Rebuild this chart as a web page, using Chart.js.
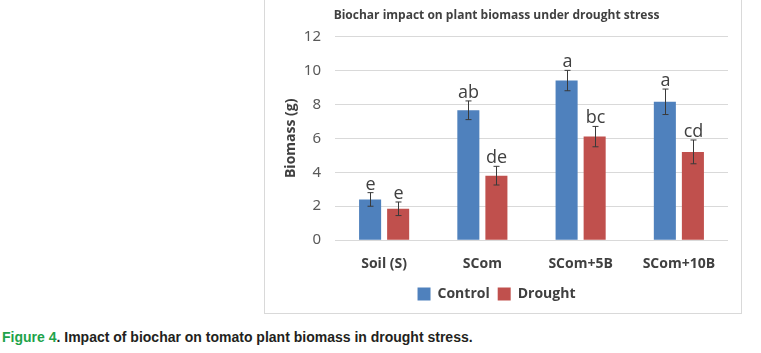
<!DOCTYPE html>
<html>
<head>
<meta charset="utf-8">
<script src="https://cdn.jsdelivr.net/npm/chart.js@4"></script>
<style>
  html, body { margin: 0; padding: 0; background: #fff; width: 761px; height: 353px; overflow: hidden; }
  #frame { position: absolute; left: 264px; top: -2px; width: 476px; height: 314px; border: 1px solid #d9d9d9; box-sizing: content-box; }
  #wrap { position: absolute; left: 265px; top: 0px; width: 476px; height: 313px; }
  #caption { position: absolute; left: 2px; top: 329px; font: bold 14px "Liberation Sans", Arial, sans-serif; color: #231f20; white-space: nowrap; }
  #caption .fig { color: #1ea34a; }
</style>
</head>
<body>
<div id="frame"></div>
<div id="wrap"><canvas id="c" width="476" height="313"></canvas></div>
<div id="caption"><span class="fig">Figure 4</span>. Impact of biochar on tomato plant biomass in drought stress.</div>
<script>
const categories = ["Soil (S)", "SCom", "SCom+5B", "SCom+10B"];
const controlValues = [2.4, 7.65, 9.4, 8.15];
const droughtValues = [1.85, 3.8, 6.1, 5.2];
const controlErrors = [0.4, 0.55, 0.6, 0.75];
const droughtErrors = [0.4, 0.55, 0.6, 0.7];
const controlLetters = ["e", "ab", "a", "a"];
const droughtLetters = ["e", "de", "bc", "cd"];
const yTicks = [0, 2, 4, 6, 8, 10, 12];

const errorBarPlugin = {
  id: 'errorBars',
  afterDatasetsDraw(chart) {
    const ctx = chart.ctx;
    const y = chart.scales.y;
    chart.data.datasets.forEach((ds, di) => {
      const meta = chart.getDatasetMeta(di);
      meta.data.forEach((bar, i) => {
        const v = ds.data[i], e = ds.errors[i];
        const x = Math.round(bar.x) + 0.5;
        const yt = y.getPixelForValue(v + e);
        const yb = y.getPixelForValue(v - e);
        ctx.save();
        ctx.strokeStyle = '#3a3a3a';
        ctx.lineWidth = 1;
        ctx.beginPath();
        ctx.moveTo(x, yt); ctx.lineTo(x, yb);
        ctx.moveTo(x - 3, yt); ctx.lineTo(x + 3, yt);
        ctx.moveTo(x - 3, yb); ctx.lineTo(x + 3, yb);
        ctx.stroke();
        ctx.fillStyle = '#404040';
        ctx.font = '18px "Open Sans", "Liberation Sans", sans-serif';
        ctx.textAlign = 'center';
        ctx.textBaseline = 'alphabetic';
        ctx.fillText(ds.letters[i], x, yt - 3);
        ctx.restore();
      });
    });
  }
};

new Chart(document.getElementById('c'), {
  type: 'bar',
  data: {
    labels: categories,
    datasets: [
      { label: 'Control', data: controlValues, errors: controlErrors, letters: controlLetters,
        backgroundColor: '#4f81bd', barPercentage: 0.786, categoryPercentage: 0.571 },
      { label: 'Drought', data: droughtValues, errors: droughtErrors, letters: droughtLetters,
        backgroundColor: '#c0504d', barPercentage: 0.786, categoryPercentage: 0.571 }
    ]
  },
  options: {
    responsive: false,
    animation: false,
    layout: { padding: { left: 0, right: 13, top: 0, bottom: 2 } },
    plugins: {
      title: {
        display: true,
        text: 'Biochar impact on plant biomass under drought stress',
        color: '#404040',
        font: { family: '"Open Sans", "Liberation Sans", sans-serif', size: 12, weight: 'bold' },
        padding: { top: 8, bottom: 14 }
      },
      legend: {
        position: 'bottom',
        labels: {
          color: '#404040',
          boxWidth: 13, boxHeight: 13,
          padding: 8,
          font: { family: '"Open Sans", "Liberation Sans", sans-serif', size: 14, weight: 'bold' }
        }
      },
      tooltip: { enabled: false }
    },
    scales: {
      x: {
        grid: { display: false },
        border: { display: false },
        ticks: {
          color: '#404040', padding: 7,
          font: { family: '"Open Sans", "Liberation Sans", sans-serif', size: 14, weight: 'bold' }
        }
      },
      y: {
        min: 0, max: 12,
        afterBuildTicks(scale) { scale.ticks = yTicks.map(v => ({ value: v })); },
        afterFit(scale) { scale.width = 70; },
        grid: { color: '#d9d9d9', drawTicks: false },
        border: { display: false },
        ticks: {
          color: '#595959', padding: 14,
          font: { family: '"Noto Sans", "Open Sans", sans-serif', size: 15 }
        },
        title: {
          display: true, text: 'Biomass (g)', color: '#404040',
          font: { family: '"Open Sans", "Liberation Sans", sans-serif', size: 14, weight: 'bold' },
          padding: { top: 18, bottom: 4 }
        }
      }
    }
  },
  plugins: [errorBarPlugin]
});
</script>
</body>
</html>
